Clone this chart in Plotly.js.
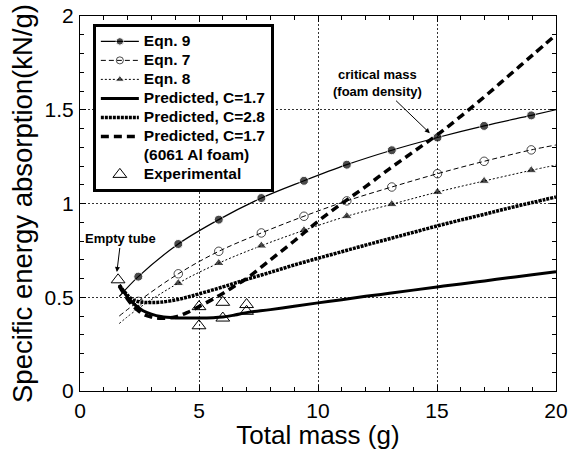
<!DOCTYPE html>
<html>
<head>
<meta charset="utf-8">
<script src="https://cdn.plot.ly/plotly-3.0.1.min.js"></script>
<style>html,body{margin:0;padding:0;background:#fff;}#chart{width:568px;height:450px;}</style>
</head>
<body>
<div id="chart"></div>
<script>
// Data
const massEqn = [1.65, 2.45, 4.13, 5.83, 7.62, 9.41, 11.21, 13.1, 15.02, 16.98, 18.96, 20];
const eqn9 = [0.504, 0.61, 0.784, 0.914, 1.029, 1.121, 1.207, 1.284, 1.352, 1.414, 1.47, 1.50];
const eqn7 = [0.40, 0.478, 0.625, 0.745, 0.843, 0.932, 1.014, 1.088, 1.159, 1.225, 1.286, 1.312];
const eqn8 = [0.36, 0.44, 0.575, 0.682, 0.775, 0.857, 0.932, 0.996, 1.061, 1.12, 1.177, 1.205];

const massPred = [1.65, 2.0, 2.3, 2.65, 3.0, 3.4, 4.0, 4.5, 5.0, 6.0, 6.5, 7.0, 8.0, 9.0, 10.0, 11.0, 12.0, 13.0, 14.0, 15.0, 16.0, 17.0, 18.0, 19.0, 20.0];
const predC17 = [0.565, 0.50, 0.46, 0.428, 0.41, 0.397, 0.39, 0.389, 0.389, 0.395, 0.405, 0.418, 0.434, 0.452, 0.47, 0.487, 0.505, 0.521, 0.538, 0.555, 0.571, 0.587, 0.604, 0.62, 0.636];
const predC28 = [0.565, 0.51, 0.482, 0.473, 0.472, 0.474, 0.485, 0.50, 0.518, 0.555, 0.575, 0.595, 0.633, 0.672, 0.708, 0.743, 0.778, 0.812, 0.846, 0.88, 0.912, 0.943, 0.975, 1.005, 1.035];
const predFoam = [0.56, 0.49, 0.445, 0.41, 0.395, 0.388, 0.395, 0.418, 0.45, 0.52, 0.56, 0.60, 0.70, 0.80, 0.905, 1.0, 1.09, 1.185, 1.275, 1.365, 1.465, 1.57, 1.68, 1.79, 1.90];

const massExp = [1.6, 5.0, 5.0, 6.0, 6.0, 7.0, 7.0];
const seaExp = [0.593, 0.45, 0.348, 0.473, 0.389, 0.461, 0.425];

const seriesNames = ['Eqn. 9', 'Eqn. 7', 'Eqn. 8', 'Predicted, C=1.7', 'Predicted, C=2.8',
                     'Predicted, C=1.7', '(6061 Al foam)', 'Experimental'];

const xTicks = [0, 5, 10, 15, 20];
const yTicks = [0, 0.5, 1, 1.5, 2];
const yTickText = ['0', '0.5', '1', '1.5', '2'];

const FONT = 'Liberation Sans, Arial, Helvetica, sans-serif';
const markerSizes = (arr, s) => arr.map((v, i) => (i === 0 || i === arr.length - 1) ? 0 : s);
const legName = (s) => '<span style="font-size:15.5px;font-weight:bold">' + s + '</span>';

const traces = [
  {x: massEqn, y: eqn9, name: legName(seriesNames[0]), mode: 'lines+markers',
   line: {color: '#000', width: 1.2, shape: 'spline'},
   marker: {symbol: 'circle', size: markerSizes(massEqn, 9), color: '#000'}},
  {x: massEqn, y: eqn7, name: legName(seriesNames[1]), mode: 'lines+markers',
   line: {color: '#000', width: 1, dash: '5px,3px', shape: 'spline'},
   marker: {symbol: 'circle-open', size: markerSizes(massEqn, 8.5), color: '#000', line: {width: 1, color: '#000'}}},
  {x: massEqn, y: eqn8, name: legName(seriesNames[2]), mode: 'lines+markers',
   line: {color: '#000', width: 1, dash: '2px,2px', shape: 'spline'},
   marker: {symbol: 'triangle-up', size: markerSizes(massEqn, 9.5), color: '#000'}},
  {x: massPred, y: predC17, name: legName(seriesNames[3]), mode: 'lines',
   line: {color: '#000', width: 3, shape: 'spline'}},
  {x: massPred, y: predC28, name: legName(seriesNames[4]), mode: 'lines',
   line: {color: '#000', width: 3.5, dash: '3px,1px', shape: 'spline'}},
  {x: massPred, y: predFoam, name: legName(seriesNames[5]), mode: 'lines',
   line: {color: '#000', width: 3.5, dash: '8px,5px', shape: 'spline'}},
  // second legend line of the foam entry (carries no marks)
  {x: [null], y: [null], name: legName(seriesNames[6]), mode: 'lines',
   line: {color: 'rgba(0,0,0,0)', width: 0}, hoverinfo: 'skip'},
  {x: massExp, y: seaExp, name: legName(seriesNames[7]), mode: 'markers',
   marker: {symbol: 'triangle-up-open', size: 12, color: '#000', line: {width: 1, color: '#000'}}}
];

const axisCommon = {
  showline: true, linecolor: '#000', linewidth: 1, mirror: 'allticks',
  ticks: 'inside', ticklen: 6, tickwidth: 1, tickcolor: '#000',
  showgrid: true, gridcolor: '#333', gridwidth: 1, griddash: '2px,2px',
  zeroline: false, tickfont: {family: FONT, size: 21, color: '#000'},
  ticklabelstandoff: 1, ticklabeloverflow: 'allow'
};

const layout = {
  width: 568, height: 450,
  margin: {l: 80, r: 12, t: 16, b: 59},
  paper_bgcolor: '#fff', plot_bgcolor: '#fff',
  font: {family: FONT, color: '#000'},
  showlegend: true,
  legend: {
    x: 0.027, y: 0.979, xanchor: 'left', yanchor: 'top',
    bgcolor: '#fff', bordercolor: '#000', borderwidth: 3,
    font: {family: FONT, size: 10.7, color: '#000'},
    itemwidth: 38, tracegroupgap: 0
  },
  xaxis: Object.assign({}, axisCommon, {
    range: [0, 20], tickvals: xTicks, ticktext: xTicks.map(String),
    minor: {dtick: 1, tick0: 0, ticks: 'inside', ticklen: 4, tickcolor: '#000', showgrid: false},
    title: {text: 'Total mass (g)', font: {family: FONT, size: 26, color: '#000'}, standoff: 2}
  }),
  yaxis: Object.assign({}, axisCommon, {
    range: [0, 2], tickvals: yTicks, ticktext: yTickText,
    minor: {dtick: 0.1, tick0: 0, ticks: 'inside', ticklen: 4, tickcolor: '#000', showgrid: false},
    title: {text: 'Specific energy absorption(kN/g)', font: {family: FONT, size: 27.5, color: '#000'}, standoff: 3}
  }),
  annotations: [
    {x: 1.55, y: 0.635, xref: 'x', yref: 'y', text: '<b>Empty tube</b>',
     showarrow: true, ax: 4, ay: -33, arrowhead: 2, arrowsize: 1, arrowwidth: 1, arrowcolor: '#000',
     font: {family: FONT, size: 13, color: '#000'}},
    {x: 14.7, y: 1.375, xref: 'x', yref: 'y', text: '<b>critical mass<br>(foam density)</b>',
     showarrow: true, ax: -52, ay: -50, arrowhead: 2, arrowsize: 1, arrowwidth: 1, arrowcolor: '#000',
     font: {family: FONT, size: 13, color: '#000'}}
  ]
};

Plotly.newPlot('chart', traces, layout, {displayModeBar: false, staticPlot: true});
</script>
</body>
</html>
